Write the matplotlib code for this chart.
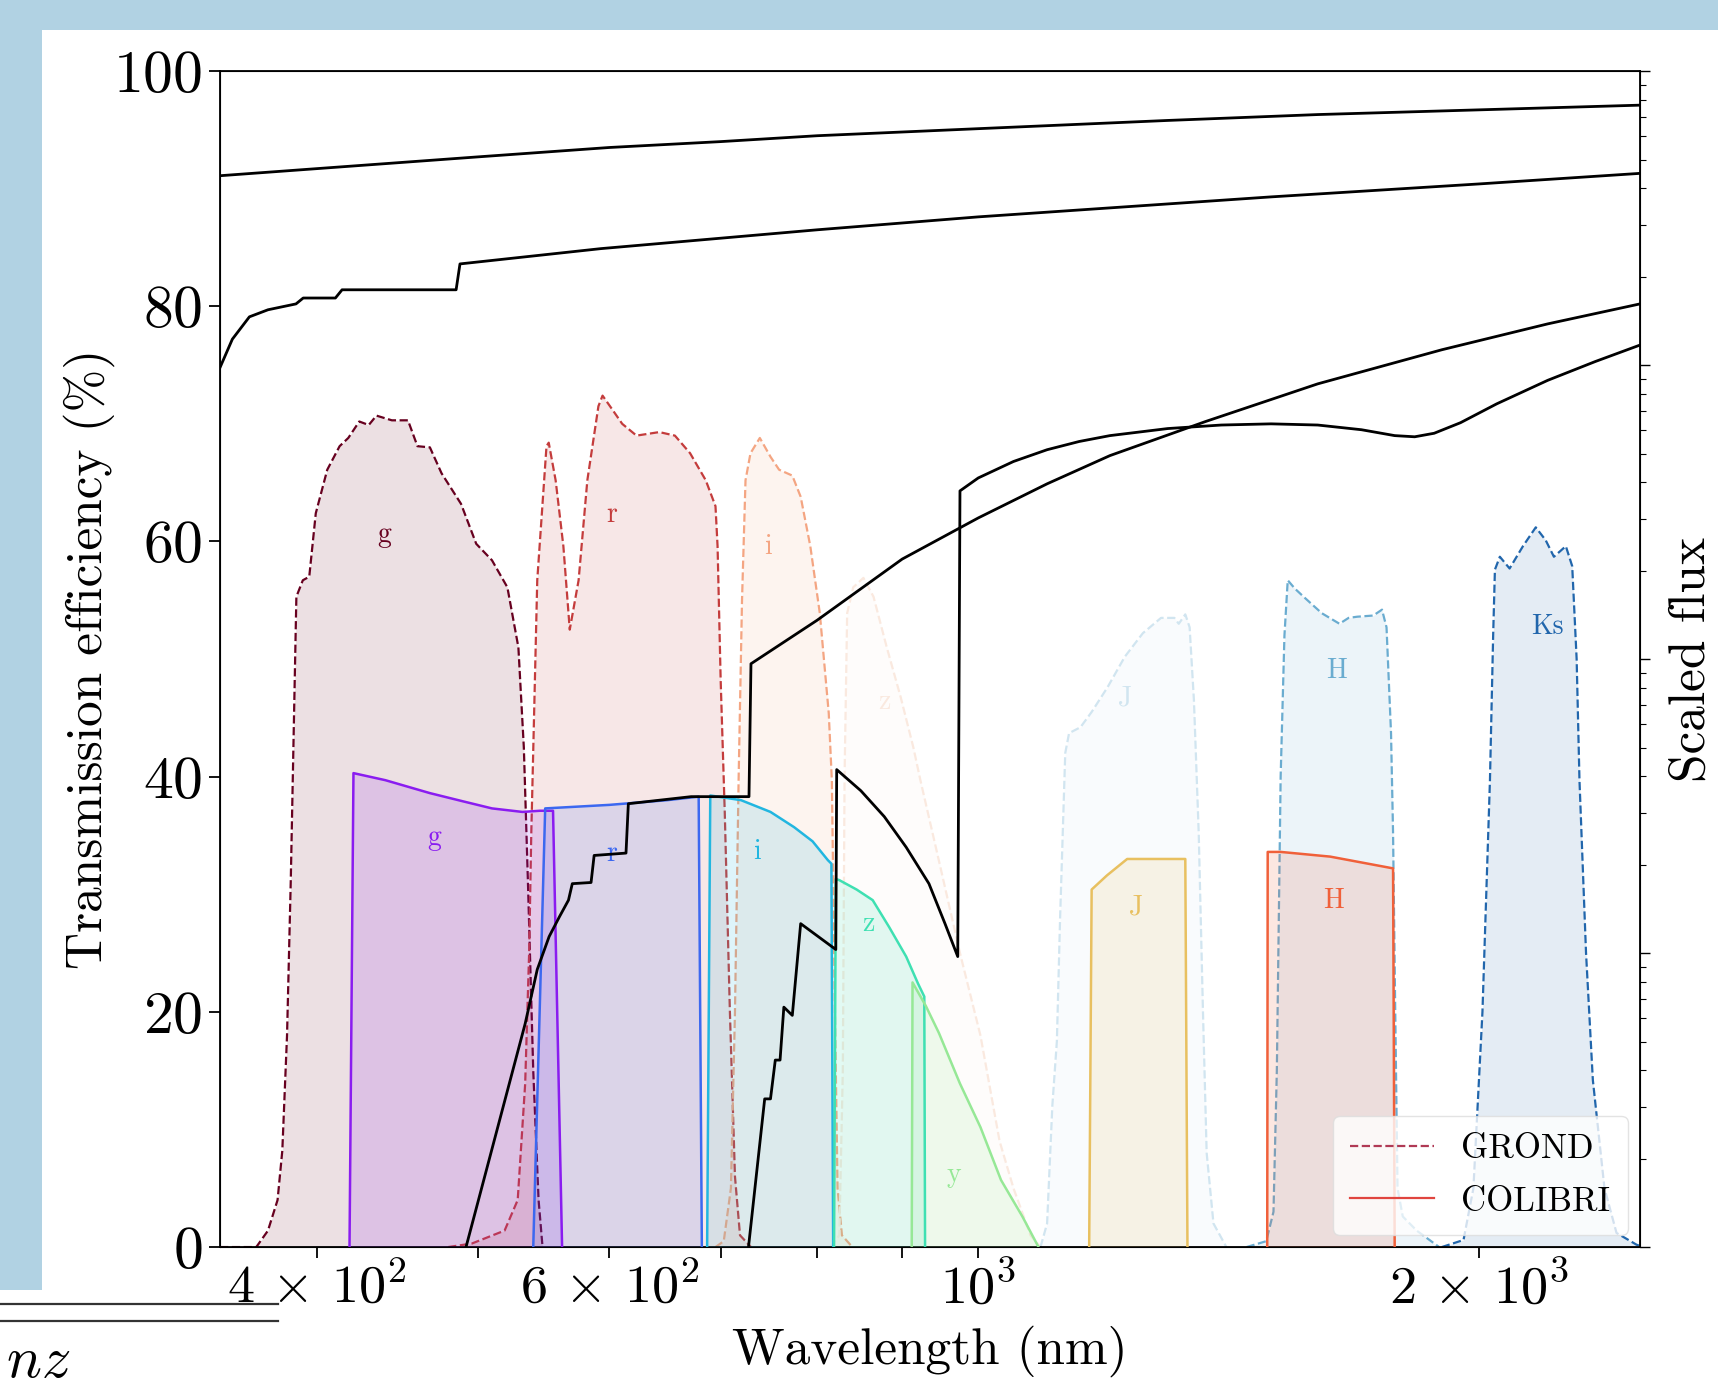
"""
Filter transmission curves: GROND (dashed) vs COLIBRI (solid), with the
black instrument/atmosphere throughput curves on top.
"""
import numpy as np
import matplotlib
matplotlib.use('Agg')
import matplotlib.pyplot as plt
from matplotlib.lines import Line2D
from matplotlib.patches import Rectangle
from matplotlib.ticker import NullFormatter, LogLocator

plt.rcParams['font.family'] = 'serif'
plt.rcParams['font.serif'] = ['cmr10']
plt.rcParams['mathtext.fontset'] = 'cm'
plt.rcParams['axes.formatter.use_mathtext'] = True

# ---------------- data (wavelength in nm, transmission in %) ----------------
# black throughput curves
top_wl = [350, 400, 500, 600, 700, 800, 1000, 1300, 1600, 2000, 2500]
top_val = [91.1, 91.7, 92.7, 93.5, 94.0, 94.5, 95.1, 95.8, 96.3, 96.7, 97.1]

second_wl = [350, 356, 364.5, 374, 388.8, 392.7, 410.6, 414.4, 485.3, 487.9,
             593, 800, 1000, 1500, 2000, 2500]
second_val = [74.8, 77.2, 79.1, 79.7, 80.2, 80.7, 80.7, 81.4, 81.4, 83.6,
              84.9, 86.5, 87.6, 89.3, 90.4, 91.3]

detA_wl = [492, 534, 543, 552, 560, 567, 570, 585, 587.5, 614, 616, 672, 728,
           730, 800, 900, 1000, 1100, 1200, 1370, 1600, 1900, 2200, 2500]
detA_val = [0, 19.0, 23.6, 26.4, 28.1, 29.5, 30.9, 31.0, 33.3, 33.5, 37.7, 38.3,
            38.3, 49.6, 53.3, 58.5, 62.0, 64.9, 67.3, 70.2, 73.4, 76.3, 78.5, 80.2]

detB_wl = [727.5, 744, 750, 755, 760, 764, 773, 782, 821, 822, 850, 878, 905,
           934, 955, 972, 975, 1000, 1050, 1100, 1150, 1200, 1300, 1400, 1500,
           1600, 1700, 1780, 1830, 1880, 1950, 2050, 2200, 2350, 2500]
detB_val = [0, 12.6, 12.6, 15.9, 15.9, 20.4, 19.7, 27.5, 25.3, 40.6, 38.8, 36.6,
            34.0, 30.9, 27.5, 24.7, 64.3, 65.4, 66.8, 67.8, 68.5, 69.0, 69.6,
            69.9, 70.0, 69.9, 69.5, 69.0, 68.9, 69.2, 70.1, 71.7, 73.7, 75.3, 76.7]

# GROND filters (dashed)
grond_names = ['g', 'r', 'i', 'z', 'J', 'H', 'Ks']
grond_wl = [
    [350, 368, 374, 379, 381.5, 384, 386, 389, 392.5, 396, 399.6, 406, 413, 418,
     424.4, 430, 434.6, 444, 454, 460, 468, 475.6, 488.6, 499, 510, 521, 529,
     533, 536, 540, 544, 547],
    [480, 496, 519, 528.5, 534, 537, 538.5, 543, 550, 551.7, 557, 563, 568, 575,
     582, 591, 594.4, 602.6, 610.8, 623, 643, 657, 671, 685.7, 695, 697, 700,
     704, 709, 714, 719, 730],
    [695, 703, 710, 714, 717.6, 721, 724.5, 729.5, 739, 750, 759, 773, 782,
     792.5, 803, 813, 816.5, 820, 823, 828, 840],
    [815, 825, 829, 831, 834, 841, 853, 865, 881, 898, 914, 923, 950, 975, 1003,
     1030, 1050, 1075, 1090],
    [1090, 1100, 1108, 1115, 1120, 1128, 1134, 1152, 1170, 1196, 1225, 1256,
     1288, 1312, 1320, 1332, 1340, 1348, 1357, 1365, 1372, 1385, 1410],
    [1450, 1490, 1505, 1512, 1520, 1528, 1535, 1550, 1569, 1609, 1649, 1670,
     1690, 1728, 1749, 1760, 1771, 1776, 1781, 1787, 1800, 1835, 1893],
    [1900, 1958, 1985, 2010, 2031, 2040, 2045, 2059, 2087, 2126, 2164, 2194,
     2219, 2256, 2276, 2290, 2299, 2320, 2342, 2380, 2420, 2488, 2500],
]
grond_val = [
    [0, 0, 1.4, 4.0, 8.2, 18, 31.2, 55.3, 56.7, 57.0, 62.4, 66.1, 68.1, 68.8,
     70.2, 69.9, 70.7, 70.3, 70.3, 68.1, 68.0, 65.8, 63.2, 59.8, 58.4, 56.1,
     51.0, 42.5, 31.2, 15, 4, 0],
    [0, 0.3, 1.4, 4.0, 13.9, 25.3, 35, 56.7, 68.1, 68.4, 65.2, 59.6, 52.5, 56.7,
     65.2, 71.5, 72.4, 71.2, 70.0, 69.0, 69.3, 69.0, 67.5, 65.2, 63.0, 59.6,
     48.2, 36.9, 20, 6, 1, 0],
    [0, 0.5, 5, 20, 39.7, 55, 65.2, 67.5, 68.8, 67.2, 66.1, 65.6, 63.8, 59.6,
     53.9, 45.4, 39.7, 20, 5, 1, 0],
    [0, 1, 15, 40, 53.9, 56.1, 56.9, 55.3, 51.0, 46.8, 42.5, 39.7, 32, 25, 18,
     9, 5, 1, 0],
    [0, 2, 12, 17.5, 28, 42, 43.7, 44.2, 45.5, 47.6, 50.2, 52.2, 53.5, 53.5,
     53.0, 53.8, 52.7, 46.5, 35.2, 20, 8, 2, 0],
    [0, 0.5, 3, 15, 40, 52, 56.7, 56.0, 55.3, 53.9, 53.0, 53.5, 53.6, 53.7,
     54.2, 52.7, 43.7, 35.2, 21, 5, 2.6, 1.4, 0],
    [0, 0.6, 5, 20, 39.7, 52, 57.6, 58.7, 57.7, 59.6, 61.2, 60.1, 58.7, 59.6,
     57.9, 50, 39.7, 25, 14.2, 5, 1.2, 0.2, 0.1],
]
grond_label_wl = [439, 602, 747, 878, 1226, 1643, 2198]
grond_label_val = [60.6, 62.3, 59.5, 46.4, 46.7, 49.0, 52.7]

# COLIBRI filters (solid)
colibri_names = ['g', 'r', 'i', 'z', 'y', 'J', 'H']
colibri_wl = [
    [418.7, 421, 440, 468, 490, 510, 532, 545, 555, 562],
    [540, 549, 600, 650, 679, 682],
    [687, 690, 720, 750, 775, 795, 812, 816, 818],
    [819, 821, 825, 845, 864, 884, 905, 920, 928, 929],
    [912, 913, 930, 947, 975, 1003, 1032, 1063, 1087],
    [1166, 1170, 1195, 1229, 1332, 1336],
    [1492, 1493, 1520, 1628, 1776, 1780],
]
colibri_val = [
    [0, 40.3, 39.7, 38.6, 37.9, 37.3, 37.0, 37.1, 37.1, 0],
    [0, 37.3, 37.6, 38.0, 38.3, 0],
    [0, 38.4, 38.0, 37.0, 35.7, 34.5, 32.9, 32.6, 0],
    [0, 31.3, 31.2, 30.4, 29.5, 27.2, 24.7, 22.4, 21.3, 0],
    [0, 22.5, 20.5, 18.2, 13.9, 10.2, 5.7, 2.6, 0],
    [0, 30.4, 31.6, 33.0, 33.0, 0],
    [0, 33.6, 33.6, 33.2, 32.2, 0],
]
colibri_label_wl = [471, 602, 736, 859, 967, 1245, 1636]
colibri_label_val = [34.8, 33.4, 33.6, 27.5, 6.1, 28.9, 29.4]

x_tick_pos = [400, 600, 1000, 2000]
x_tick_labels = [r'$4\,\times\,10^{2}$', r'$6\,\times\,10^{2}$', r'$10^{3}$',
                 r'$2\,\times\,10^{3}$']

# ---------------- styles ----------------
grond_colors = ['#67001f', '#c43c3c', '#f4a582', '#fae9df', '#d1e5f0',
                '#6aacd0', '#2166ac']
colibri_colors = ['#8a1cf0', '#3c68f0', '#22b6e0', '#3fe0b2', '#96e896',
                  '#e8c060', '#f0603a']
slide_blue = '#b1d2e3'

fig = plt.figure(figsize=(17.18, 13.85), dpi=100)
fig.patch.set_facecolor('white')

# slide background bands
fig.patches.append(Rectangle((0, 1 - 30 / 1385), 1, 30 / 1385, transform=fig.transFigure,
                             facecolor=slide_blue, edgecolor='none', zorder=0))
fig.patches.append(Rectangle((0, 1 - 1290 / 1385), 42 / 1718, 1290 / 1385,
                             transform=fig.transFigure, facecolor=slide_blue,
                             edgecolor='none', zorder=0))
for yy in [1304, 1321]:
    fig.add_artist(Line2D([0, 278 / 1718], [1 - yy / 1385] * 2, transform=fig.transFigure,
                          color='#333333', lw=1.6))
fig.text(6 / 1718, 8 / 1385, r'$nz$', fontsize=42, ha='left', va='baseline')

ax = fig.add_axes([0.1281, 0.0996, 0.8265, 0.8491])
ax.set_xscale('log')

for k in range(len(grond_names)):
    c = grond_colors[k]
    ax.fill_between(grond_wl[k], 0, grond_val[k], color=c, alpha=0.12, lw=0, zorder=1)
    ax.plot(grond_wl[k], grond_val[k], '--', color=c, lw=1.6, zorder=2)
    ax.text(grond_label_wl[k], grond_label_val[k], grond_names[k], color=c,
            fontsize=20, ha='center', va='center', zorder=3)

for k in range(len(colibri_names)):
    c = colibri_colors[k]
    ax.fill_between(colibri_wl[k], 0, colibri_val[k], color=c, alpha=0.15, lw=0, zorder=3)
    ax.plot(colibri_wl[k], colibri_val[k], '-', color=c, lw=1.8, zorder=4)
    ax.text(colibri_label_wl[k], colibri_label_val[k], colibri_names[k], color=c,
            fontsize=20, ha='center', va='center', zorder=4)

for wl, val in [(top_wl, top_val), (second_wl, second_val),
                (detA_wl, detA_val), (detB_wl, detB_val)]:
    ax.plot(wl, val, '-', color='black', lw=2.0, zorder=5)

ax.set_xlim(350, 2500)
ax.set_ylim(0, 100)
ax.set_yticks([0, 20, 40, 60, 80, 100])
ax.set_xticks(x_tick_pos, labels=x_tick_labels)
ax.xaxis.set_minor_formatter(NullFormatter())
ax.tick_params(axis='both', which='both', direction='out', width=1.3)
ax.tick_params(axis='both', which='major', length=8)
ax.tick_params(axis='x', which='minor', length=8)
ax.tick_params(axis='x', which='both', pad=3, labelsize=39)
ax.tick_params(axis='y', pad=5, labelsize=43)
for sp in ax.spines.values():
    sp.set_linewidth(1.3)

ax.set_xlabel('Wavelength (nm)', fontsize=37)
ax.set_ylabel('Transmission efficiency (%)', fontsize=37)
ax.yaxis.set_label_coords(-0.074, 0.5)
ax.xaxis.set_label_coords(0.5, -0.067)

leg_handles = [Line2D([], [], ls='--', color='#b03a55', lw=1.6),
               Line2D([], [], ls='-', color='#e0453f', lw=1.6)]
ax.legend(leg_handles, ['GROND', 'COLIBRI'], loc='lower right', fontsize=25,
          handlelength=2.4, labelspacing=0.6, borderpad=0.5, borderaxespad=0.35,
          framealpha=0.8, edgecolor='#dddddd')

# right axis: scaled flux (log, no labels)
ax2 = ax.twinx()
ax2.set_yscale('log')
ax2.set_ylim(1e-3, 1e1)
ax2.yaxis.set_major_locator(LogLocator(base=10))
ax2.yaxis.set_minor_locator(LogLocator(base=10, subs=np.arange(2, 10)))
ax2.yaxis.set_major_formatter(NullFormatter())
ax2.yaxis.set_minor_formatter(NullFormatter())
ax2.tick_params(axis='y', which='major', length=7, width=1.0, direction='out')
ax2.tick_params(axis='y', which='minor', length=4, width=0.8, direction='out')
ax2.set_ylabel('Scaled flux', fontsize=37, labelpad=10)

fig.savefig('out.png', dpi=100)
